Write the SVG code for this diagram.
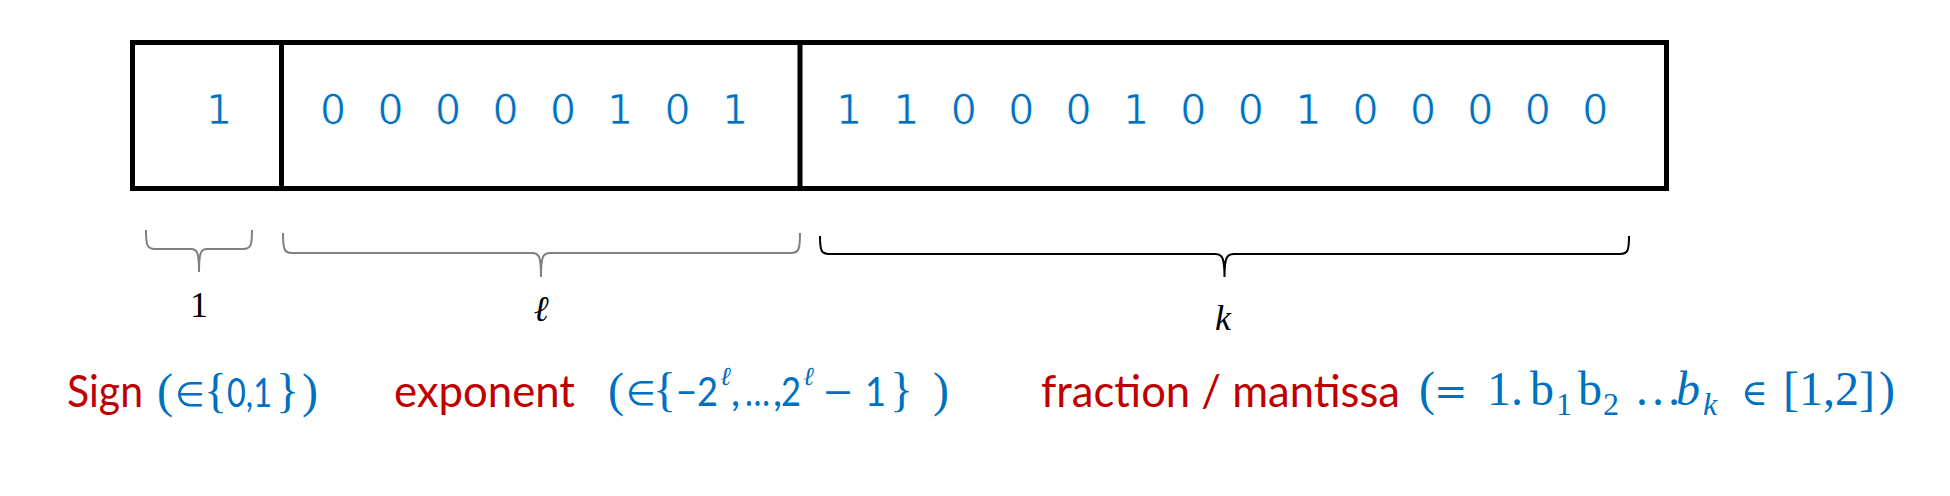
<svg xmlns="http://www.w3.org/2000/svg" width="1950" height="496" viewBox="0 0 1950 496">
<style>
.bit{font-family:"DejaVu Sans","Liberation Sans",sans-serif;font-size:41px;fill:#0070C0;text-anchor:middle;stroke:#fff;stroke-width:0.7px}
.box{fill:none;stroke:#000;stroke-width:5}
.brace{fill:none;stroke-width:2}
.lbl{font-family:"Liberation Serif","DejaVu Serif",serif;font-size:36px;fill:#000;text-anchor:middle}
.red{font-family:"Lato","Open Sans",sans-serif;font-size:44px;fill:#C00000}
.blue{font-family:"Lato","DejaVu Sans",sans-serif;font-size:40px;fill:#0070C0}
.op{font-family:"DejaVu Sans",sans-serif;font-size:34px;fill:#0070C0}
.math{font-family:"Liberation Serif","DejaVu Serif",serif;font-size:48px;fill:#0070C0}
.sup{font-family:"Liberation Serif","DejaVu Serif",serif;font-style:italic;font-size:26px;fill:#0070C0}
.sub{font-size:32px}
</style>
<rect x="0" y="0" width="1950" height="496" fill="#fff"/>
<g id="word">
<rect class="box" x="132.5" y="42.5" width="1534" height="146"/>
<line class="box" x1="281.5" y1="42.5" x2="281.5" y2="188.5"/>
<line class="box" x1="800" y1="42.5" x2="800" y2="188.5"/>
</g>
<g id="sign-field">
<text class="bit" x="219" y="124">1</text>
</g>
<g id="exponent-field">
<text class="bit" y="124"><tspan x="333">0</tspan><tspan x="390.5">0</tspan><tspan x="448">0</tspan><tspan x="505.5">0</tspan><tspan x="563">0</tspan><tspan x="620">1</tspan><tspan x="677.5">0</tspan><tspan x="735">1</tspan></text>
</g>
<g id="fraction-field">
<text class="bit" y="124"><tspan x="849">1</tspan><tspan x="906.4">1</tspan><tspan x="963.8">0</tspan><tspan x="1021.2">0</tspan><tspan x="1078.6">0</tspan><tspan x="1136">1</tspan><tspan x="1193.4">0</tspan><tspan x="1250.8">0</tspan><tspan x="1308.2">1</tspan><tspan x="1365.6">0</tspan><tspan x="1423">0</tspan><tspan x="1480.4">0</tspan><tspan x="1537.8">0</tspan><tspan x="1595.2">0</tspan></text>
</g>
<g id="connectors">
<path class="brace" stroke="#808080" d="M146,230 C146,245 147,249 155,249 L191,249 C197,249 199,252 199,272 M252,230 C252,245 251,249 243,249 L207,249 C201,249 199,252 199,272"/>
<path class="brace" stroke="#808080" d="M283,233 C283,249 284,253 292,253 L532,253 C539,253 541,256 541,277 M800,233 C800,249 799,253 791,253 L550,253 C543,253 541,256 541,277"/>
<path class="brace" stroke="#000" stroke-width="1.6" d="M820,236 C820,250 821,254 829,254 L1215,254 C1222,254 1224.5,257 1224.5,277 M1629,236 C1629,250 1628,254 1620,254 L1234,254 C1227,254 1224.5,257 1224.5,277"/>
</g>
<g id="size-labels">
<text class="lbl" x="199" y="317">1</text>
<text class="lbl" x="541" y="321" font-style="italic">ℓ</text>
<text class="lbl" x="1223" y="330" font-style="italic">k</text>
</g>
<g id="sign-caption">
<text class="red" x="67" y="407" textLength="76" lengthAdjust="spacingAndGlyphs">Sign</text>
<text class="math" x="157" y="407">(</text>
<text class="op" x="175" y="406">∈</text>
<text class="math" x="204" y="407">{</text>
<text class="blue" x="227" y="407" textLength="45" lengthAdjust="spacingAndGlyphs">0,1</text>
<text class="math" x="276" y="407">}</text>
<text class="math" x="302" y="407">)</text>
</g>
<g id="exponent-caption">
<text class="red" x="394" y="407" textLength="181" lengthAdjust="spacingAndGlyphs">exponent</text>
<text class="math" x="608" y="406">(</text>
<text class="op" x="626" y="405">∈</text>
<text class="math" x="653" y="406">{</text>
<text class="blue" x="676" y="406" textLength="42" lengthAdjust="spacingAndGlyphs">−2</text>
<text class="sup" x="720" y="385">ℓ</text>
<text class="blue" x="731" y="406">,</text>
<text class="blue" x="745" y="406" textLength="25" lengthAdjust="spacingAndGlyphs">…</text>
<text class="blue" x="773" y="406">,</text>
<text class="blue" x="781" y="406" textLength="20" lengthAdjust="spacingAndGlyphs">2</text>
<text class="sup" x="803" y="385">ℓ</text>
<text class="blue" x="822" y="406" textLength="32" lengthAdjust="spacingAndGlyphs">−</text>
<text class="blue" x="865" y="406" textLength="21" lengthAdjust="spacingAndGlyphs">1</text>
<text class="math" x="890" y="406">}</text>
<text class="math" x="933" y="406">)</text>
</g>
<g id="fraction-caption">
<text class="red" x="1041" y="407" textLength="359" lengthAdjust="spacingAndGlyphs">fraction / mantissa</text>
<text class="math" y="405"><tspan x="1419">(</tspan><tspan x="1434" font-family="DejaVu Serif" font-size="40">=</tspan><tspan x="1487">1.</tspan><tspan x="1530">b</tspan><tspan x="1556" y="415" class="sub">1</tspan><tspan x="1578" y="405">b</tspan><tspan x="1603" y="415" class="sub">2</tspan><tspan x="1634" y="405">…</tspan><tspan x="1676" font-style="italic">b</tspan><tspan x="1703" y="415" class="sub" font-style="italic">k</tspan><tspan x="1741" y="405" font-family="DejaVu Serif" font-size="36">∈</tspan><tspan x="1783">[1,2]</tspan><tspan x="1879">)</tspan></text>
</g>
</svg>
